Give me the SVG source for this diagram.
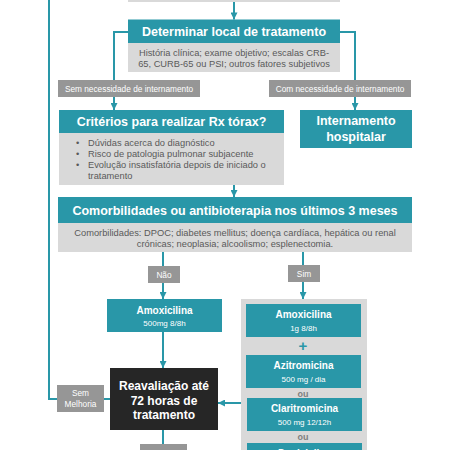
<svg xmlns="http://www.w3.org/2000/svg" width="450" height="450" viewBox="0 0 450 450">
<style>
text{font-family:"Liberation Sans",Arial,sans-serif}
.teal{fill:#2997a8}
.panel{fill:#d9d9d9}
.lab{fill:#969696}
.h{font-weight:bold;fill:#fff;font-size:12.5px;text-anchor:middle}
.b{font-size:9.3px;fill:#595959}
.bc{font-size:9.3px;fill:#595959;text-anchor:middle}
.l{font-size:8.3px;fill:#fff;text-anchor:middle}
.dh{font-weight:bold;fill:#fff;font-size:10px;text-anchor:middle}
.ds{fill:#fff;font-size:8px;text-anchor:middle}
.c{fill:none;stroke:#2997a8;stroke-width:2}
</style>
<defs>
<marker id="ah" viewBox="0 0 10 10" refX="10" refY="5" markerWidth="8" markerHeight="7" markerUnits="userSpaceOnUse" orient="auto">
<path d="M0,0 L10,5 L0,10 z" fill="#2997a8"/>
</marker>
</defs>
<rect width="450" height="450" fill="#fff"/>
<g id="connectors">
<path class="c" d="M234,2 V19.5" marker-end="url(#ah)"/>
<path class="c" d="M128,32 H114 V110" marker-end="url(#ah)"/>
<path class="c" d="M340,32 H355 V110" marker-end="url(#ah)"/>
<path class="c" d="M234,185 V197" marker-end="url(#ah)"/>
<path class="c" d="M163,252 V299" marker-end="url(#ah)"/>
<path class="c" d="M303,252 V299" marker-end="url(#ah)"/>
<path class="c" d="M163,332 V368" marker-end="url(#ah)"/>
<path class="c" d="M241,403 H218" marker-end="url(#ah)"/>
<path class="c" d="M110,399 H49 V0"/>
<path class="c" d="M163,430 V450"/>
</g>
<g id="top-box">
<rect class="panel" x="128" y="-10" width="212" height="12"/>
</g>
<g id="determinar">
<rect class="teal" x="128" y="19.5" width="212" height="23.5"/>
<text class="h" x="234" y="36">Determinar local de tratamento</text>
<rect class="panel" x="128" y="43" width="212" height="29"/>
<text class="bc" x="234" y="56">História clínica; exame objetivo; escalas CRB-</text>
<text class="bc" x="234" y="67">65, CURB-65 ou PSI; outros fatores subjetivos</text>
</g>
<g id="sem-necessidade">
<rect class="lab" x="58" y="80" width="142" height="17"/>
<text class="l" x="129" y="91.5">Sem necessidade de internamento</text>
</g>
<g id="com-necessidade">
<rect class="lab" x="269" y="80" width="142" height="17"/>
<text class="l" x="340" y="91.5">Com necessidade de internamento</text>
</g>
<g id="criterios">
<rect class="teal" x="59" y="110" width="225" height="23"/>
<text class="h" x="171.5" y="126">Critérios para realizar Rx tórax?</text>
<rect class="panel" x="59" y="133" width="225" height="52"/>
<text class="b" x="76" y="146">•</text>
<text class="b" x="88" y="146">Dúvidas acerca do diagnóstico</text>
<text class="b" x="76" y="157">•</text>
<text class="b" x="88" y="157">Risco de patologia pulmonar subjacente</text>
<text class="b" x="76" y="168">•</text>
<text class="b" x="88" y="168">Evolução insatisfatória depois de iniciado o</text>
<text class="b" x="88" y="179">tratamento</text>
</g>
<g id="internamento">
<rect class="teal" x="300" y="110" width="112" height="38"/>
<text class="h" x="356" y="125">Internamento</text>
<text class="h" x="356" y="140.5">hospitalar</text>
</g>
<g id="comorbilidades">
<rect class="teal" x="58" y="197" width="354" height="26"/>
<text class="h" x="235" y="215">Comorbilidades ou antibioterapia nos últimos 3 meses</text>
<rect class="panel" x="58" y="223" width="354" height="29"/>
<text class="bc" x="235" y="236">Comorbilidades: DPOC; diabetes mellitus; doença cardíaca, hepática ou renal</text>
<text class="bc" x="235" y="247">crónicas; neoplasia; alcoolismo; esplenectomia.</text>
</g>
<g id="nao">
<rect class="lab" x="148" y="266" width="32" height="17"/>
<text class="l" x="164" y="277.5">Não</text>
</g>
<g id="sim">
<rect class="lab" x="288" y="265" width="32" height="17"/>
<text class="l" x="304" y="276.5">Sim</text>
</g>
<g id="amoxicilina-500">
<rect class="teal" x="107" y="299" width="115" height="33"/>
<text class="dh" x="164.5" y="313.5">Amoxicilina</text>
<text class="ds" x="164.5" y="325.5">500mg 8/8h</text>
</g>
<g id="reavaliacao">
<rect fill="#262626" x="110" y="368" width="108" height="62"/>
<text class="h" x="164" y="390" style="font-size:12px">Reavaliação até</text>
<text class="h" x="164" y="404.5" style="font-size:12px">72 horas de</text>
<text class="h" x="164" y="419" style="font-size:12px">tratamento</text>
</g>
<g id="sem-melhoria">
<rect class="lab" x="57" y="385" width="47" height="27"/>
<text class="l" x="80.5" y="396">Sem</text>
<text class="l" x="80.5" y="406.5">Melhoria</text>
</g>
<g id="bottom-box">
<rect class="lab" x="140" y="444" width="47" height="10"/>
</g>
<g id="sim-panel">
<rect class="panel" x="241" y="299" width="126" height="160"/>
<g id="amoxicilina-1g">
<rect class="teal" x="246" y="304" width="115" height="33"/>
<text class="dh" x="303.5" y="317.5">Amoxicilina</text>
<text class="ds" x="303.5" y="330.5">1g 8/8h</text>
</g>
<text x="303" y="350.5" style="font-size:15px;font-weight:bold;fill:#2997a8;text-anchor:middle">+</text>
<g id="azitromicina">
<rect class="teal" x="246" y="355" width="115" height="33"/>
<text class="dh" x="303.5" y="368.5">Azitromicina</text>
<text class="ds" x="303.5" y="381.5">500 mg / dia</text>
</g>
<text x="303" y="396.5" style="font-size:9px;font-weight:bold;fill:#7f7f7f;text-anchor:middle">ou</text>
<g id="claritromicina">
<rect class="teal" x="247" y="398" width="115" height="33"/>
<text class="dh" x="304.5" y="411.5">Claritromicina</text>
<text class="ds" x="304.5" y="424.5">500 mg 12/12h</text>
</g>
<text x="303" y="439.5" style="font-size:9px;font-weight:bold;fill:#7f7f7f;text-anchor:middle">ou</text>
<g id="doxiciclina">
<rect class="teal" x="247" y="443" width="115" height="33"/>
<text class="dh" x="304.5" y="456.5">Doxiciclina</text>
</g>
</g>
</svg>
